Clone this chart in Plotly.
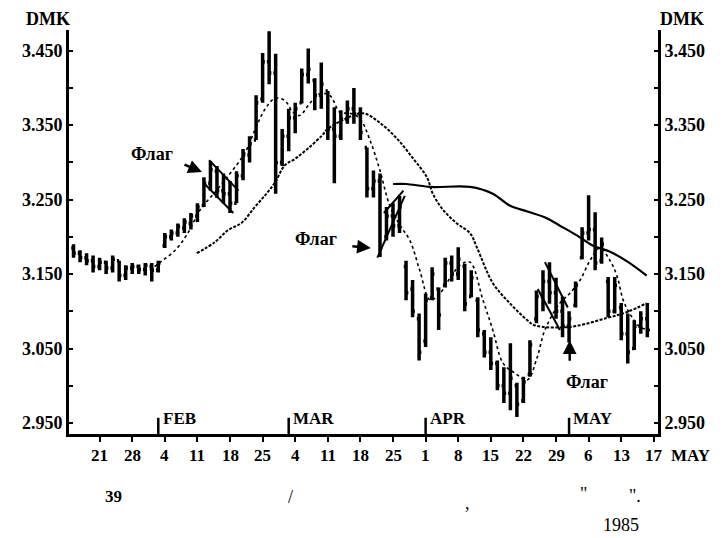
import plotly.graph_objects as go

# ---------------- data (trading-day index, Jan 14 1985 = 0) ----------------
TICK_IDX = [5, 10, 15, 20, 25, 30, 35, 40, 45, 50, 55, 60, 65, 70, 75, 80, 85, 90]
TICK_LABELS = ["21", "28", "4", "11", "18", "25", "4", "11", "18", "25",
               "1", "8", "15", "22", "29", "6", "13", "17"]

MONTH_IDX = [14, 34, 55, 77]
MONTH_LABELS = ["FEB", "MAR", "APR", "MAY"]

BAR_IDX = list(range(1, 90))
HIGH = [3.190, 3.182, 3.178, 3.175, 3.172, 3.168, 3.175, 3.168, 3.162, 3.165,
        3.163, 3.165, 3.165, 3.168, 3.205, 3.210, 3.218, 3.225, 3.232, 3.245,
        3.280, 3.302, 3.295, 3.285, 3.275, 3.288, 3.318, 3.335, 3.390, 3.447,
        3.476, 3.446, 3.345, 3.372, 3.380, 3.426, 3.453, 3.413, 3.434, 3.396,
        3.374, 3.370, 3.383, 3.400, 3.374, 3.320, 3.289, 3.285, 3.240, 3.245,
        3.255, 3.168, 3.142, 3.097, 3.124, 3.159, 3.132, 3.172, 3.175, 3.186,
        3.164, 3.155, 3.119, 3.075, 3.065, 3.034, 3.025, 3.057, 3.004, 3.012,
        3.061, 3.128, 3.155, 3.166, 3.145, 3.120, 3.100, 3.140, 3.213, 3.256,
        3.233, 3.199, 3.146, 3.146, 3.111, 3.097, 3.088, 3.100, 3.111]
LOW = [3.172, 3.166, 3.162, 3.152, 3.155, 3.150, 3.152, 3.140, 3.142, 3.150,
       3.150, 3.148, 3.140, 3.152, 3.185, 3.195, 3.200, 3.205, 3.210, 3.220,
       3.240, 3.262, 3.252, 3.245, 3.232, 3.245, 3.276, 3.300, 3.330, 3.380,
       3.405, 3.258, 3.295, 3.315, 3.339, 3.379, 3.406, 3.370, 3.372, 3.330,
       3.272, 3.330, 3.352, 3.352, 3.330, 3.253, 3.253, 3.173, 3.195, 3.200,
       3.205, 3.115, 3.092, 3.034, 3.052, 3.115, 3.075, 3.132, 3.140, 3.142,
       3.100, 3.119, 3.065, 3.038, 3.021, 2.994, 2.977, 2.967, 2.958, 2.977,
       3.012, 3.084, 3.100, 3.110, 3.090, 3.065, 3.058, 3.105, 3.170, 3.195,
       3.155, 3.164, 3.092, 3.097, 3.061, 3.030, 3.048, 3.070, 3.065]
OPEN = [3.185, 3.178, 3.172, 3.168, 3.160, 3.166, 3.158, 3.168, 3.148, 3.158,
        3.160, 3.156, 3.160, 3.155, 3.188, 3.200, 3.205, 3.212, 3.218, 3.228,
        3.242, 3.272, 3.288, 3.262, 3.258, 3.245, 3.282, 3.310, 3.330, 3.385,
        3.435, 3.420, 3.300, 3.335, 3.360, 3.380, 3.418, 3.410, 3.390, 3.396,
        3.345, 3.335, 3.358, 3.372, 3.365, 3.320, 3.265, 3.275, 3.200, 3.228,
        3.215, 3.160, 3.130, 3.090, 3.060, 3.118, 3.130, 3.135, 3.165, 3.150,
        3.160, 3.120, 3.115, 3.070, 3.045, 3.030, 3.000, 2.990, 3.000, 2.980,
        3.015, 3.090, 3.120, 3.140, 3.125, 3.100, 3.080, 3.108, 3.172, 3.205,
        3.210, 3.168, 3.140, 3.100, 3.105, 3.070, 3.050, 3.080, 3.090]
CLOSE = [3.178, 3.172, 3.168, 3.160, 3.166, 3.158, 3.170, 3.148, 3.158, 3.160,
         3.156, 3.162, 3.155, 3.165, 3.200, 3.205, 3.214, 3.220, 3.228, 3.240,
         3.272, 3.290, 3.262, 3.258, 3.245, 3.282, 3.310, 3.325, 3.380, 3.435,
         3.420, 3.300, 3.335, 3.360, 3.372, 3.418, 3.425, 3.390, 3.405, 3.345,
         3.335, 3.358, 3.372, 3.365, 3.340, 3.265, 3.275, 3.185, 3.228, 3.215,
         3.240, 3.125, 3.100, 3.045, 3.115, 3.150, 3.095, 3.165, 3.150, 3.170,
         3.110, 3.145, 3.075, 3.045, 3.030, 3.000, 2.990, 3.010, 2.975, 3.005,
         3.055, 3.120, 3.140, 3.125, 3.100, 3.080, 3.090, 3.135, 3.205, 3.210,
         3.165, 3.190, 3.100, 3.135, 3.070, 3.045, 3.080, 3.090, 3.075]

MA_SHORT_IDX = [12.7, 14.3, 16.6, 18.6, 20.4, 22.7, 25.0, 27.3, 28.8, 30.4,
                31.9, 33.4, 34.7, 35.7, 37.3, 38.8, 40.3, 41.9, 43.4, 44.9,
                46.5, 48.0, 49.5, 51.1, 52.6, 54.1, 55.7, 57.2, 58.7, 60.3,
                61.8, 63.8, 65.3, 66.9, 68.7, 70.6, 72.1, 73.3, 75.6, 77.1,
                78.7, 80.2, 81.7, 83.3, 84.4, 85.3, 86.3, 87.9, 89.4]
MA_SHORT = [3.155, 3.166, 3.182, 3.206, 3.236, 3.260, 3.285, 3.313, 3.343, 3.372,
            3.386, 3.383, 3.367, 3.363, 3.380, 3.392, 3.390, 3.367, 3.366, 3.359,
            3.329, 3.289, 3.242, 3.215, 3.195, 3.155, 3.115, 3.124, 3.144, 3.162,
            3.166, 3.115, 3.075, 3.030, 3.017, 3.008, 3.038, 3.075, 3.111, 3.124,
            3.142, 3.168, 3.185, 3.168, 3.146, 3.115, 3.097, 3.079, 3.075]

MA_MED_IDX = [19.9, 22.7, 24.7, 26.8, 28.8, 30.4, 31.9, 33.4, 35.0, 37.0,
              39.1, 40.0, 42.6, 45.4, 48.0, 50.6, 53.1, 55.2, 56.1, 57.7,
              59.8, 61.8, 62.9, 65.3, 67.9, 70.6, 71.8, 77.1, 82.8, 85.9, 88.9]
MA_MED = [3.178, 3.193, 3.209, 3.219, 3.240, 3.256, 3.273, 3.296, 3.305, 3.319,
          3.336, 3.345, 3.358, 3.366, 3.353, 3.332, 3.305, 3.280, 3.258, 3.236,
          3.218, 3.205, 3.185, 3.138, 3.111, 3.088, 3.081, 3.079, 3.091, 3.099, 3.111]

MA_LONG_IDX = [50.0, 52.0, 55.7, 61.8, 65.3, 67.9, 70.6, 73.6, 75.6, 78.2, 80.7, 83.3, 85.9, 88.9]
MA_LONG = [3.271, 3.271, 3.267, 3.267, 3.258, 3.242, 3.234, 3.225, 3.215, 3.202, 3.188,
           3.180, 3.167, 3.148]

# flag boundary lines (trading-day index, price)
FLAG_LINES = [
    ([21.8, 26.3], [3.303, 3.262]),
    ([21.0, 25.5], [3.272, 3.232]),
    ([47.6, 51.8], [3.172, 3.255]),
    ([48.6, 51.6], [3.232, 3.262]),
    ([73.3, 76.8], [3.166, 3.105]),
    ([72.2, 75.6], [3.130, 3.075]),
]

Y_TICKS = [2.95, 3.05, 3.15, 3.25, 3.35, 3.45]
Y_LABELS = ["2.950", "3.050", "3.150", "3.250", "3.350", "3.450"]
Y_MINOR = [3.00, 3.10, 3.20, 3.30, 3.40]

# ---------------- layout geometry ----------------
# The page body has an 8px margin, so the figure is shrunk by 8px and all
# screen coordinates below refer to the 723x538 window.
OFF = 8
W, H = 723 - OFF, 538 - OFF
PL, PR, PT, PB = 69, 658, 30, 434          # plot box in window pixels
ML, MR, MT, MB = PL - OFF, 723 - PR, PT - OFF, 538 - PB


def px(x):
    return (x - PL) / (PR - PL)


def py(y):
    return (PB - y) / (PB - PT)


SERIF = "Liberation Serif"
BLACK = "black"

fig = go.Figure()

fig.add_trace(go.Ohlc(
    x=BAR_IDX, open=OPEN, high=HIGH, low=LOW, close=CLOSE,
    increasing=dict(line=dict(color=BLACK, width=3.5)),
    decreasing=dict(line=dict(color=BLACK, width=3.5)),
    tickwidth=0.35, showlegend=False, hoverinfo="skip"))

fig.add_trace(go.Scatter(x=MA_SHORT_IDX, y=MA_SHORT, mode="lines", line_shape="spline",
                         line=dict(color=BLACK, width=1.6, dash="dot"),
                         showlegend=False, hoverinfo="skip"))
fig.add_trace(go.Scatter(x=MA_MED_IDX, y=MA_MED, mode="lines", line_shape="spline",
                         line=dict(color=BLACK, width=2, dash="3px,1.5px"),
                         showlegend=False, hoverinfo="skip"))
fig.add_trace(go.Scatter(x=MA_LONG_IDX, y=MA_LONG, mode="lines", line_shape="spline",
                         line=dict(color=BLACK, width=2.2),
                         showlegend=False, hoverinfo="skip"))

for fx, fy in FLAG_LINES:
    fig.add_trace(go.Scatter(x=fx, y=fy, mode="lines",
                             line=dict(color=BLACK, width=2),
                             showlegend=False, hoverinfo="skip"))

# dummy trace so the right axis is drawn
fig.add_trace(go.Scatter(x=[None], y=[None], yaxis="y2", showlegend=False, hoverinfo="skip"))

YR = [2.9352, 3.4778]
XR = [0.307, 90.64]

axis_common = dict(
    range=YR, showgrid=False, zeroline=False, showline=True, linecolor=BLACK, linewidth=3,
    tickvals=Y_TICKS, ticktext=Y_LABELS, ticks="inside", ticklen=4, tickwidth=2, tickcolor=BLACK,
    tickfont=dict(family=SERIF, size=18, color=BLACK, weight=700),
    minor=dict(tickvals=Y_MINOR, ticks="inside", ticklen=4, tickwidth=2, tickcolor=BLACK),
    fixedrange=True, automargin=False,
)

fig.update_layout(
    width=W, height=H,
    margin=dict(l=ML, r=MR, t=MT, b=MB, autoexpand=False),
    paper_bgcolor="white", plot_bgcolor="white",
    showlegend=False,
    xaxis=dict(range=XR, showgrid=False, zeroline=False, showline=True, linecolor=BLACK,
               linewidth=3, tickvals=TICK_IDX, ticks="outside", showticklabels=False,
               ticklen=5, tickwidth=2, tickcolor=BLACK, automargin=False,
               rangeslider=dict(visible=False), fixedrange=True),
    yaxis=dict(side="left", **axis_common),
    yaxis2=dict(side="right", overlaying="y", anchor="x", **axis_common),
)

ann = []
BOLD17 = dict(family=SERIF, size=17, color=BLACK, weight=700)
C = dict(xanchor="center", yanchor="middle", showarrow=False)

# date labels under the axis
for ti, tl in zip(TICK_IDX, TICK_LABELS):
    ann.append(dict(x=ti, xref="x", yref="paper", y=py(455), text=tl, font=BOLD17, **C))
ann.append(dict(xref="paper", yref="paper", x=px(690), y=py(455), text="MAY", font=BOLD17, **C))

# month markers and labels
for mi, ml in zip(MONTH_IDX, MONTH_LABELS):
    fig.add_shape(type="line", x0=mi, x1=mi, y0=YR[0], y1=2.957,
                  line=dict(color=BLACK, width=2.5))
    ann.append(dict(x=mi + 0.35, y=2.9555, text=ml, showarrow=False, xanchor="left",
                    yanchor="middle", font=BOLD17))

# axis unit labels
for cx in (47.5, 682):
    ann.append(dict(xref="paper", yref="paper", x=px(cx), y=py(18.5), text="DMK",
                    font=dict(family=SERIF, size=18, color=BLACK, weight=700), **C))

# flag labels
for cx, cy in ((152, 154), (316, 239), (587, 382)):
    ann.append(dict(xref="paper", yref="paper", x=px(cx), y=py(cy), text="Флаг",
                    font=dict(family=SERIF, size=18, color=BLACK, weight=700), **C))
# flag arrows (head in data coords, tail as pixel offset)
for hx, hy, dx, dy in ((20.7, 3.287, -19, -8), (46.6, 3.185, -20, -2), (77.1, 3.061, 0, 22)):
    ann.append(dict(x=hx, y=hy, ax=dx, ay=dy, text="", showarrow=True, arrowhead=2,
                    arrowsize=1.1, arrowwidth=2.5, arrowcolor=BLACK))

# caption remnants
cap = [("<b>39</b>", 113, 497, 17), ("/", 290, 497, 18), (",", 467, 503, 18),
       ('"', 583, 494, 18), ('".', 635, 496, 18), ("1985", 621, 525, 18)]
for t, cx, cy, s in cap:
    ann.append(dict(xref="paper", yref="paper", x=px(cx), y=py(cy), text=t,
                    font=dict(family=SERIF, size=s, color=BLACK), **C))

fig.update_layout(annotations=ann)
fig.write_html("out.html")
